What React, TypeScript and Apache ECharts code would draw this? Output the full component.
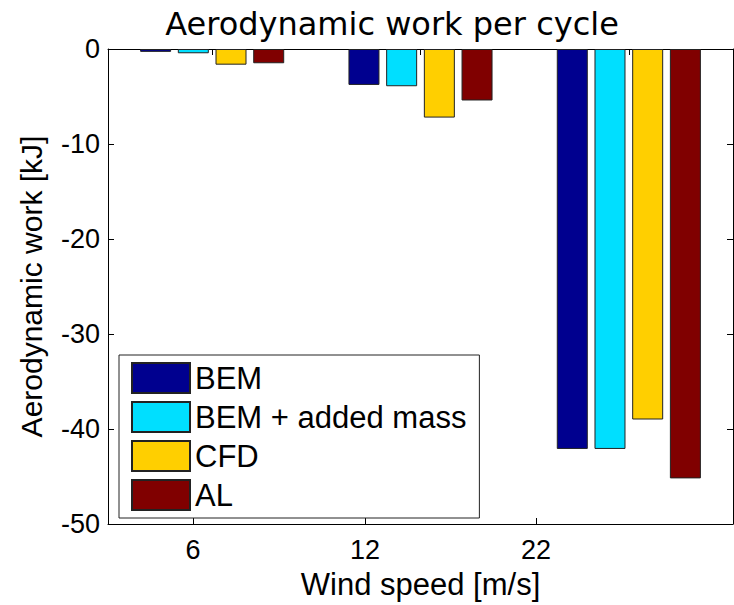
import React, { useEffect, useRef } from "react";
import * as echarts from "echarts";

const groupPositions = [1, 2, 3];
const tickLabels = ["6", "12", "22"];
const tickPositions = [0.908, 1.734, 2.554];

const seriesNames = ["BEM", "BEM + added mass", "CFD", "AL"];
const bemValues = [-0.3, -3.78, -42.1];
const bemAddedMassValues = [-0.45, -3.92, -42.1];
const cfdValues = [-1.65, -7.22, -39.0];
const alValues = [-1.5, -5.42, -45.2];
const seriesColors = ["#00008f", "#00dfff", "#ffcf00", "#800000"];

const yTicks = [0, -10, -20, -30, -40, -50];

const FONT = "Liberation Sans, Arial, Helvetica, sans-serif";

export default function App() {
  const ref = useRef<HTMLDivElement>(null);
  useEffect(() => {
    if (!ref.current) return;
    const chart = echarts.init(ref.current, null, { renderer: "svg" });
    const allValues = [bemValues, bemAddedMassValues, cfdValues, alValues];
    const series = seriesNames.map((name, i) => ({
      name,
      type: "bar",
      xAxisIndex: 0,
      yAxisIndex: 0,
      barWidth: 31,
      barGap: "21.6%",
      data: allValues[i].map((v, j) => [groupPositions[j], v]),
      itemStyle: {
        color: seriesColors[i],
        borderColor: "#222",
        borderWidth: 1,
      },
    }));
    const tickMap: Record<string, string> = {};
    tickPositions.forEach((p, i) => {
      tickMap[String(p)] = tickLabels[i];
    });
    chart.setOption({
      animation: false,
      backgroundColor: "#fff",
      title: {
        text: "Aerodynamic work per cycle",
        left: 387,
        top: 3,
        textAlign: "center",
        textStyle: {
          fontFamily: "DejaVu Sans, Verdana, sans-serif",
          fontSize: 32,
          fontWeight: "normal",
          color: "#000",
        },
      },
      legend: {
        orient: "vertical",
        left: 119,
        top: 355,
        data: seriesNames,
        itemWidth: 58,
        itemHeight: 30,
        itemGap: 7,
        padding: [7, 13, 7, 12],
        backgroundColor: "#fff",
        borderColor: "#222",
        borderWidth: 1,
        icon: "rect",
        textStyle: { fontFamily: FONT, fontSize: 31, lineHeight: 30, color: "#000" },
      },
      grid: { left: 108, right: 1, top: 49, bottom: 76, containLabel: false },
      xAxis: [
        {
          type: "value",
          position: "bottom",
          min: 0.5,
          max: 3.5,
          name: "Wind speed [m/s]",
          nameLocation: "middle",
          nameGap: 45,
          nameTextStyle: { fontFamily: FONT, fontSize: 31, color: "#000" },
          axisLine: { show: true, onZero: false, lineStyle: { color: "#000", width: 1 } },
          axisTick: {
            show: true,
            inside: true,
            length: 6,
            customValues: tickPositions,
            lineStyle: { color: "#000" },
          },
          axisLabel: {
            show: true,
            customValues: tickPositions,
            formatter: (v: number) => tickMap[String(v)] ?? "",
            fontFamily: FONT,
            fontSize: 27,
            color: "#000",
            margin: 12,
          },
          splitLine: { show: false },
        },
        {
          type: "value",
          position: "top",
          min: 0.5,
          max: 3.5,
          axisLine: { show: true, onZero: false, lineStyle: { color: "#000", width: 1 } },
          axisTick: {
            show: true,
            inside: true,
            length: 6,
            customValues: groupPositions,
            lineStyle: { color: "#000" },
          },
          axisLabel: { show: false },
          splitLine: { show: false },
        },
      ],
      yAxis: [
        {
          type: "value",
          position: "left",
          min: -50,
          max: 0,
          interval: 10,
          name: "Aerodynamic work [kJ]",
          nameLocation: "middle",
          nameGap: 62,
          nameTextStyle: { fontFamily: FONT, fontSize: 30, color: "#000" },
          axisLine: { show: true, onZero: false, lineStyle: { color: "#000", width: 1 } },
          axisTick: { show: true, inside: true, length: 6, lineStyle: { color: "#000" } },
          axisLabel: {
            fontFamily: FONT,
            fontSize: 27,
            color: "#000",
            margin: 8,
            formatter: (v: number) => (yTicks.includes(v) ? String(v) : ""),
          },
          splitLine: { show: false },
        },
        {
          type: "value",
          position: "right",
          min: -50,
          max: 0,
          interval: 10,
          axisLine: { show: true, onZero: false, lineStyle: { color: "#000", width: 1 } },
          axisTick: { show: true, inside: true, length: 6, lineStyle: { color: "#000" } },
          axisLabel: { show: false },
          splitLine: { show: false },
        },
      ],
      series,
    });
    return () => chart.dispose();
  }, []);
  return (
    <div
      ref={ref}
      style={{ position: "fixed", left: 0, top: 0, width: 734, height: 605 }}
    />
  );
}
